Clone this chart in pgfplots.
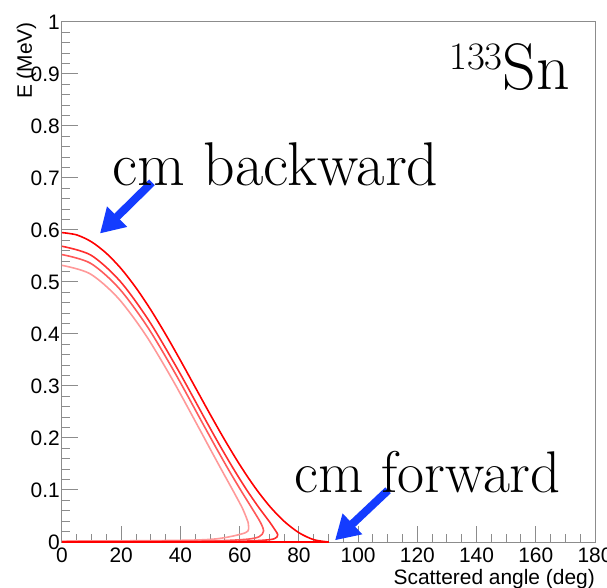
\documentclass[border=0pt]{standalone}
\usepackage{pgfplots}
\pgfplotsset{compat=1.18}
\usepackage{pgfplotstable}
\usepackage{fontspec}
\newfontfamily\helv{Liberation Sans}
\usetikzlibrary{arrows.meta}
\definecolor{arrowblue}{RGB}{20,60,255}
\definecolor{frameg}{RGB}{140,140,140}

\pgfplotstableread{
x y
0 0.595
5 0.5905
10 0.5771
15 0.5551
20 0.5254
25 0.4887
30 0.4463
35 0.3993
40 0.3492
45 0.2975
50 0.2458
55 0.1958
60 0.1488
65 0.1063
70 0.0696
75 0.0399
80 0.0179
85 0.0045
90 0.0000
}\curveA
\pgfplotstableread{
x y
90 0.0000
0 0.0000
}\curveAlow
\pgfplotstableread{
x y
0 0.5687
9.77 0.5516
19.52 0.5022
29.24 0.4266
38.90 0.3339
48.44 0.2351
53.13 0.1873
57.73 0.1424
62.19 0.1018
66.41 0.0668
70.13 0.0384
72.61 0.0174
72.80 0.0130
72.65 0.0100
70.36 0.0046
59.86 0.0014
36.36 0.0005
0 0.0003
}\curveB
\pgfplotstableread{
x y
0 0.5527
9.62 0.5361
19.22 0.4881
28.76 0.4147
38.20 0.3247
47.44 0.2288
51.93 0.1824
56.27 0.1388
60.39 0.0994
64.10 0.0653
67.02 0.0377
68.06 0.0209
66.58 0.0102
61.77 0.0050
46.79 0.0018
0 0.0008
}\curveC
\pgfplotstableread{
x y
0 0.5320
9.42 0.5160
18.80 0.4700
28.10 0.3995
37.24 0.3129
46.08 0.2209
50.30 0.1762
54.31 0.1343
57.97 0.0965
61.02 0.0638
62.88 0.0373
63.00 0.0306
61.93 0.0178
51.67 0.0058
34.70 0.0028
0 0.0018
}\curveD

\begin{document}
\begin{tikzpicture}
\useasboundingbox (-62bp,-45.3bp) rectangle (545bp,542bp);
\begin{axis}[
  scale only axis, width=533bp, height=520bp,
  xmin=0, xmax=180, ymin=0, ymax=1,
  xtick={0,20,40,60,80,100,120,140,160,180},
  ytick={0,0.1,0.2,0.3,0.4,0.5,0.6,0.7,0.8,0.9,1},
  yticklabels={0,0.1,0.2,0.3,0.4,0.5,0.6,0.7,0.8,0.9,1},
  minor x tick num=3, minor y tick num=4,
  tick align=inside, xtick pos=left, ytick pos=left,
  major tick length=16bp, minor tick length=8bp,
  tick style={frameg, line width=1bp},
  axis line style={frameg, line width=1bp},
  /pgf/number format/assume math mode=true,
  ticklabel style={font=\helv\fontsize{21}{21}\selectfont, text=black},
  xticklabel style={inner sep=0pt, anchor=north, yshift=-6bp},
  yticklabel style={inner sep=0pt, anchor=east, xshift=-2bp},
  xlabel={Scattered angle (deg)},
  xlabel style={at={(rel axis cs:1,-0.052)}, anchor=north east, inner sep=0pt, font=\helv\fontsize{21}{21}\selectfont},
  ylabel={E (MeV)},
  ylabel style={at={(rel axis cs:-0.0563,1)}, anchor=base east, inner sep=0pt, font=\helv\fontsize{21}{21}\selectfont},
  clip=false,
]
\addplot[red!40, line width=1.6bp, smooth, tension=0.5] table {\curveD};
\addplot[red!65, line width=1.6bp, smooth, tension=0.5] table {\curveC};
\addplot[red!82, line width=1.6bp, smooth, tension=0.5] table {\curveB};
\addplot[red, line width=1.6bp, smooth, tension=0.5] table {\curveA};
\addplot[red, line width=1.6bp] table {\curveAlow};

\draw[arrowblue, line width=8bp, -{Triangle[length=24bp,width=27bp]}]
  (axis cs:30.4,0.6917) -- (axis cs:12.83,0.5933);
\draw[arrowblue, line width=8bp, -{Triangle[length=24bp,width=27bp]}]
  (axis cs:110.1,0.0994) -- (axis cs:92.2,0.0033);

\node[anchor=base west, inner sep=0pt, font=\fontsize{62}{66}\selectfont]
  at (axis cs:16.89,0.686) {cm backward};
\node[anchor=base west, inner sep=0pt, font=\fontsize{59}{63}\selectfont]
  at (axis cs:78.35,0.0956) {cm forward};
\node[anchor=base east, inner sep=0pt]
  at (axis cs:171.6,0.8706) {{\fontsize{39}{39}\selectfont\raisebox{20bp}{133}}{\fontsize{66}{70}\selectfont Sn}};
\end{axis}
\end{tikzpicture}
\end{document}
